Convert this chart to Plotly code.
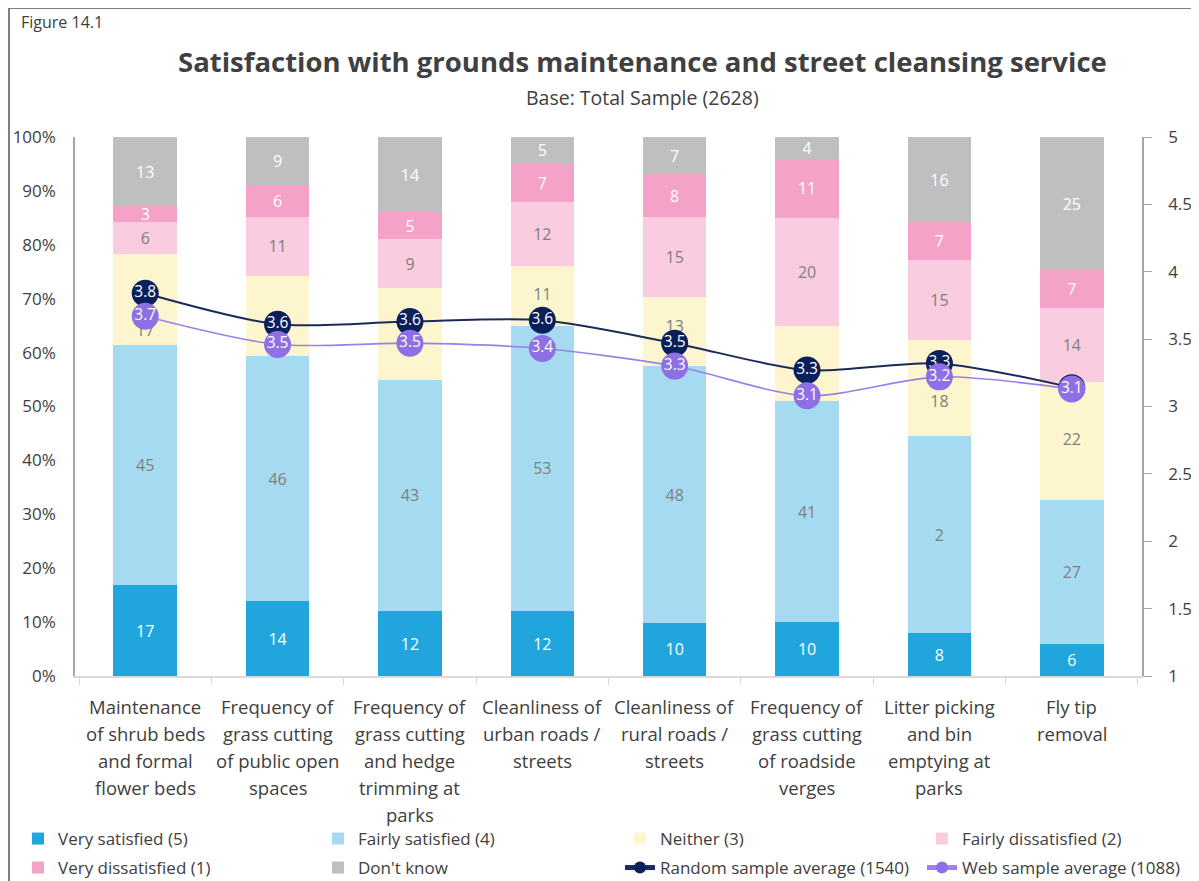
import plotly.graph_objects as go

FONT = "Open Sans"

categories = [
    "Maintenance<br>of shrub beds<br>and formal<br>flower beds",
    "Frequency of<br>grass cutting<br>of public open<br>spaces",
    "Frequency of<br>grass cutting<br>and hedge<br>trimming at<br>parks",
    "Cleanliness of<br>urban roads /<br>streets",
    "Cleanliness of<br>rural roads /<br>streets",
    "Frequency of<br>grass cutting<br>of roadside<br>verges",
    "Litter picking<br>and bin<br>emptying at<br>parks",
    "Fly tip<br>removal",
]

very_satisfied = [17, 14, 12, 12, 10, 10, 8, 6]
fairly_satisfied = [45, 46, 43, 53, 48, 41, 37, 27]
fairly_satisfied_labels = ["45", "46", "43", "53", "48", "41", "2", "27"]
neither = [17, 15, 17, 11, 13, 14, 18, 22]
fairly_dissatisfied = [6, 11, 9, 12, 15, 20, 15, 14]
very_dissatisfied = [3, 6, 5, 7, 8, 11, 7, 7]
dont_know = [13, 9, 14, 5, 7, 4, 16, 25]

# where the "Neither" label sits inside its segment (0 = bottom, 1 = top),
# as the labels were nudged in the original chart
neither_label_frac = [0.14, 0.42, 0.5, 0.5, 0.55, 0.42, 0.34, 0.5]

random_avg = [3.84, 3.61, 3.63, 3.64, 3.47, 3.27, 3.32, 3.14]
web_avg = [3.67, 3.46, 3.47, 3.43, 3.30, 3.08, 3.22, 3.13]

left_ticks = [0, 10, 20, 30, 40, 50, 60, 70, 80, 90, 100]
left_tick_labels = [f"{v}%" for v in left_ticks]
right_ticks = [1, 1.5, 2, 2.5, 3, 3.5, 4, 4.5, 5]
right_tick_labels = ["1", "1.5", "2", "2.5", "3", "3.5", "4", "4.5", "5"]

# ---- geometry (the page body adds an 8px offset) ----
OFF = 8
W, H = 1199 - OFF, 881 - OFF
ML, MR, MT, MB = 75 - OFF, W - (1142 - OFF), 137 - OFF, H - (676 - OFF)
PW, PH = W - ML - MR, H - MT - MB


def px(sx):
    return (sx - OFF - ML) / PW


def py(sy):
    return (H - MB - (sy - OFF)) / PH


GREY_TXT = "#7F7F7F"
bar_series = [
    ("Very satisfied (5)", very_satisfied, [str(v) for v in very_satisfied], "#21A5DD", "#FFFFFF", "legend"),
    ("Fairly satisfied (4)", fairly_satisfied, fairly_satisfied_labels, "#A6DAF0", GREY_TXT, "legend2"),
    ("Neither (3)", neither, None, "#FCF5CD", GREY_TXT, "legend3"),
    ("Fairly dissatisfied (2)", fairly_dissatisfied, [str(v) for v in fairly_dissatisfied], "#F9CCE0", GREY_TXT, "legend4"),
    ("Very dissatisfied (1)", very_dissatisfied, [str(v) for v in very_dissatisfied], "#F4A2C7", "#FFFFFF", "legend5"),
    ("Don't know", dont_know, [str(v) for v in dont_know], "#BFBFBF", "#FFFFFF", "legend6"),
]

fig = go.Figure()

for name, vals, labels, color, tcolor, leg in bar_series:
    kw = dict(hoverinfo="skip")
    if labels is not None:
        kw.update(text=labels, texttemplate="%{text}", textposition="inside",
                  insidetextanchor="middle", textangle=0,
                  textfont=dict(family=FONT, size=16, color=tcolor))
    else:
        kw.update(textposition="none")
    fig.add_trace(go.Bar(
        x=categories, y=vals, name=name, legend=leg,
        marker=dict(color=color, line=dict(width=0)), **kw,
    ))

# "Neither" labels as a text trace (sits above the bars, below the average lines)
neither_label_y = []
for i in range(len(categories)):
    total = (very_satisfied[i] + fairly_satisfied[i] + neither[i] + fairly_dissatisfied[i]
             + very_dissatisfied[i] + dont_know[i])
    base = very_satisfied[i] + fairly_satisfied[i]
    neither_label_y.append((base + neither[i] * neither_label_frac[i]) / total * 100)
fig.add_trace(go.Scatter(
    x=categories, y=neither_label_y, mode="text", text=[str(v) for v in neither],
    textposition="middle center", showlegend=False, hoverinfo="skip",
    textfont=dict(family=FONT, size=16, color=GREY_TXT),
))

line_series = [
    ("Random sample average (1540)", random_avg, "#0B1F5B", "#1B2A5C", 2, "legend7"),
    ("Web sample average (1088)", web_avg, "#8E70E4", "#9A80EA", 1.6, "legend8"),
]
for name, vals, mcolor, lcolor, lw, leg in line_series:
    fig.add_trace(go.Scatter(
        x=categories, y=vals, yaxis="y2", name=name, legend=leg,
        mode="lines+markers",
        line=dict(color=lcolor, width=lw, shape="spline", smoothing=0.8),
        marker=dict(color=mcolor, size=27, line=dict(width=0)),
        hoverinfo="skip",
    ))
    fig.add_trace(go.Scatter(
        x=categories, y=vals, yaxis="y2", showlegend=False,
        mode="text", text=[f"{v:.1f}" for v in vals],
        textposition="middle center",
        textfont=dict(family=FONT, size=15.5, color="#FFFFFF"),
        hoverinfo="skip",
    ))

annotations = []
for cat in categories:
    for i, line in enumerate(cat.split("<br>")):
        annotations.append(dict(
            x=cat, xref="x", y=0, yref="paper", yanchor="middle",
            yshift=-(30 + 27 * i), text=line, showarrow=False,
            font=dict(family=FONT, size=18.5, color="#404040"),
        ))

annotations += [
    dict(text="Figure 14.1", xref="paper", yref="paper", x=px(19), y=py(22),
         xanchor="left", yanchor="middle", showarrow=False,
         font=dict(family=FONT, size=16, color="#404040")),
    dict(text="<b>Satisfaction with grounds maintenance and street cleansing service</b>",
         xref="paper", yref="paper", x=px(642), y=py(62), xanchor="center", yanchor="middle",
         showarrow=False, font=dict(family=FONT, size=27.5, color="#404040")),
    dict(text="Base: Total Sample (2628)", xref="paper", yref="paper", x=px(642), y=py(97),
         xanchor="center", yanchor="middle", showarrow=False,
         font=dict(family=FONT, size=19.5, color="#404040")),
]

legend_pos = [(18, 839), (318, 839), (620, 839), (922, 839),
              (18, 868), (318, 868), (620, 868), (922, 868)]
legends = {}
for k, (lx, ly) in enumerate(legend_pos):
    key = "legend" if k == 0 else f"legend{k + 1}"
    legends[key] = dict(
        xref="container", yref="container", x=(lx - OFF) / W, y=1 - (ly - OFF) / H,
        xanchor="left", yanchor="middle", orientation="h",
        bgcolor="rgba(0,0,0,0)", borderwidth=0, itemsizing="constant",
        font=dict(family=FONT, size=17, color="#404040"),
        itemclick=False, itemdoubleclick=False,
    )

fig.update_layout(
    width=W, height=H,
    margin=dict(l=ML, r=MR, t=MT, b=MB, pad=0, autoexpand=False),
    barmode="stack", barnorm="percent", bargap=0.52,
    plot_bgcolor="white", paper_bgcolor="white",
    font=dict(family=FONT, color="#404040"),
    xaxis=dict(showticklabels=False, showline=True, linecolor="#D9D9D9", linewidth=1.5,
               ticks="outside", tickson="boundaries", ticklen=7, tickcolor="#D9D9D9",
               showgrid=False, zeroline=False, automargin=False),
    yaxis=dict(range=[0, 100], tickmode="array", tickvals=left_ticks, ticktext=left_tick_labels,
               showgrid=False, zeroline=False, showline=True, linecolor="#A6A6A6", linewidth=1.5,
               ticks="outside", ticklen=14, tickcolor="rgba(0,0,0,0)", automargin=False,
               tickfont=dict(family=FONT, size=17, color="#404040")),
    yaxis2=dict(overlaying="y", side="right", range=[1, 5], tickmode="array",
                tickvals=right_ticks, ticktext=right_tick_labels,
                showgrid=False, zeroline=False, showline=True, linecolor="#A6A6A6",
                linewidth=1.5, ticks="outside", ticklen=8, tickcolor="#A6A6A6",
                ticklabelstandoff=13, automargin=False,
                tickfont=dict(family=FONT, size=17, color="#404040")),
    uniformtext=dict(minsize=16, mode="show"),
    annotations=annotations,
    shapes=[dict(type="rect", xref="paper", yref="paper",
                 x0=px(9), x1=1.3, y0=-0.6, y1=py(8),
                 line=dict(color="#7F7F7F", width=2), fillcolor="rgba(0,0,0,0)",
                 layer="below")],
    **legends,
)

fig.write_html("out.html")
